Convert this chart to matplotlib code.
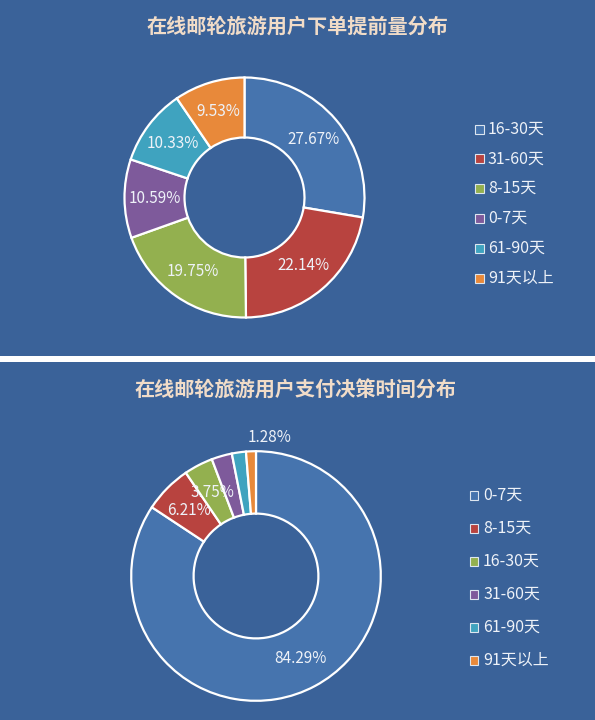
import numpy as np
import matplotlib.pyplot as plt
from matplotlib.patches import Rectangle

plt.rcParams['font.family'] = ['Noto Sans CJK SC', 'DejaVu Sans']

# top chart: booking lead time
top_title = '在线邮轮旅游用户下单提前量分布'
top_labels = ['16-30天', '31-60天', '8-15天', '0-7天', '61-90天', '91天以上']
top_values = [27.67, 22.14, 19.75, 10.59, 10.33, 9.53]

# bottom chart: payment decision time
bot_title = '在线邮轮旅游用户支付决策时间分布'
bot_labels = ['0-7天', '8-15天', '16-30天', '31-60天', '61-90天', '91天以上']
bot_values = [84.29, 6.21, 3.75, 2.65, 1.82, 1.28]
bot_shown = [True, True, True, False, False, True]

bg = '#3A6299'
colors_top = ['#4674AE', '#B8433F', '#93B04F', '#7E5A9B', '#3FA3BF', '#E8893A']
colors_bot = ['#4674AE', '#B8433F', '#93B04F', '#7E5A9B', '#3FA3BF', '#E8893A']
txt = '#EEF2F8'

W, H = 595, 720
fig = plt.figure(figsize=(W / 100, H / 100), dpi=100)
fig.patch.set_facecolor('white')

# panel backgrounds
fig.patches.append(Rectangle((0, (H - 356) / H), 1, 356 / H, transform=fig.transFigure,
                             facecolor=bg, edgecolor='none', zorder=-2))
fig.patches.append(Rectangle((0, 0), 1, (H - 362) / H, transform=fig.transFigure,
                             facecolor=bg, edgecolor='none', zorder=-2))


def donut(cx, cy, R, lim, values, colors):
    size = 2 * lim * R
    ax = fig.add_axes([(cx - size / 2) / W, (H - cy - size / 2) / H, size / W, size / H])
    ax.set_xlim(-lim, lim)
    ax.set_ylim(-lim, lim)
    ax.set_aspect('equal')
    ax.axis('off')
    wedges, _ = ax.pie(values, colors=colors, startangle=90, counterclock=False,
                       radius=1, wedgeprops=dict(width=0.5, edgecolor='white', linewidth=1.6))
    return ax, wedges


def mid_angle(w):
    return np.deg2rad((w.theta1 + w.theta2) / 2)


# top donut
ax1, w1 = donut(244.5, 197.5, 120, 1.25, top_values, colors_top)
for w, v in zip(w1, top_values):
    a = mid_angle(w)
    ax1.text(0.75 * np.cos(a), 0.75 * np.sin(a), f'{v:.2f}%', ha='center', va='center',
             fontsize=11, color=txt)

# bottom donut
ax2, w2 = donut(256, 576, 130, 1.2, bot_values, colors_bot)
for i, (w, v) in enumerate(zip(w2, bot_values)):
    if not bot_shown[i]:
        continue
    a = mid_angle(w)
    if v < 2:
        ax2.text(1.11 * np.cos(a) - 0.02, 1.11 * np.sin(a), f'{v:.2f}%', ha='left', va='center',
                 fontsize=11, color=txt)
    else:
        ax2.text(0.75 * np.cos(a), 0.75 * np.sin(a), f'{v:.2f}%', ha='center', va='center',
                 fontsize=11, color=txt)

# titles
fig.text(297 / W, 1 - 26 / H, top_title, ha='center', va='center', fontsize=14.5,
         fontweight='bold', color='#F1DCC8')
fig.text(296 / W, 1 - 390 / H, bot_title, ha='center', va='center', fontsize=14.5,
         fontweight='bold', color='#F1DCC8')

# legends
def legend(labels, colors, x, y0, step):
    for i, (lab, c) in enumerate(zip(labels, colors)):
        y = y0 + i * step
        fig.patches.append(Rectangle(((x - 4.5) / W, (H - y - 4.5) / H), 9 / W, 9 / H,
                                     transform=fig.transFigure, facecolor=c,
                                     edgecolor='#DDE6F0', linewidth=0.8, zorder=3))
        fig.text((x + 9) / W, 1 - y / H, lab, ha='left', va='center', fontsize=11.5,
                 color=txt)


legend(top_labels, colors_top, 479, 129, 29.8)
legend(bot_labels, colors_bot, 474, 495, 33)

fig.savefig('out.png', dpi=100, facecolor=fig.get_facecolor())
